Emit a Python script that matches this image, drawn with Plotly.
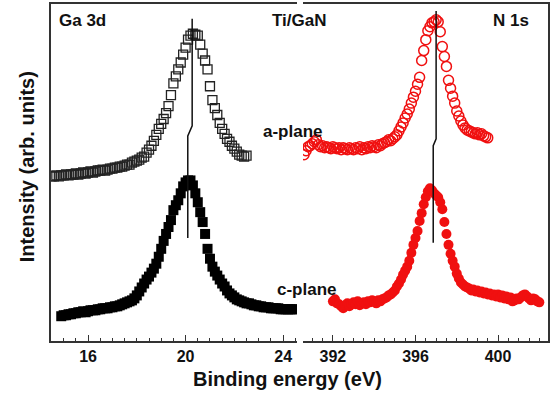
import plotly.graph_objects as go

# ---------------- data (intensity in arbitrary units) ----------------
ga_a_x = [14.5, 14.6, 14.7, 14.8, 14.9, 15.0, 15.1, 15.2, 15.3, 15.4, 15.5, 15.6, 15.7, 15.8, 15.9,
          16.0, 16.1, 16.2, 16.3, 16.4, 16.5, 16.6, 16.7, 16.8, 16.9, 17.0, 17.1, 17.2, 17.3, 17.4,
          17.5, 17.6, 17.7, 17.8, 17.9, 18.0, 18.1, 18.2, 18.3, 18.4, 18.5, 18.6, 18.7, 18.8, 18.9,
          19.0, 19.1, 19.2, 19.3, 19.4, 19.5, 19.6, 19.7, 19.8, 19.9, 20.0, 20.1, 20.2, 20.3, 20.4,
          20.5, 20.6, 20.7, 20.8, 20.9, 21.0, 21.1, 21.2, 21.3, 21.4, 21.5, 21.6, 21.7, 21.8, 21.9,
          22.0, 22.1, 22.2, 22.3, 22.4, 22.5]
ga_a_y = [166, 166, 167, 166, 167, 167, 168, 167, 168, 168, 169, 168, 169, 170, 169,
          170, 171, 170, 171, 172, 172, 173, 172, 173, 174, 174, 175, 175, 176, 176,
          177, 178, 178, 180, 181, 182, 183, 185, 186, 190, 193, 197, 202, 208, 214,
          219, 224, 230, 237, 248, 260, 267, 274, 281, 289, 296, 304, 308, 310, 309,
          308, 299, 290, 283, 274, 257, 243, 235, 228, 220, 214, 209, 204, 201, 197,
          194, 191, 188, 187, 186, 187]

ga_c_x = [14.9, 15.0, 15.1, 15.2, 15.3, 15.4, 15.5, 15.6, 15.7, 15.8, 15.9, 16.0, 16.1, 16.2, 16.3,
          16.4, 16.5, 16.6, 16.7, 16.8, 16.9, 17.0, 17.1, 17.2, 17.3, 17.4, 17.5, 17.6, 17.7, 17.8,
          17.9, 18.0, 18.1, 18.2, 18.3, 18.4, 18.5, 18.6, 18.7, 18.8, 18.9, 19.0, 19.1, 19.2, 19.3,
          19.4, 19.5, 19.6, 19.7, 19.8, 19.9, 20.0, 20.1, 20.2, 20.3, 20.4, 20.5, 20.6, 20.7, 20.8,
          20.9, 21.0, 21.1, 21.2, 21.3, 21.4, 21.5, 21.6, 21.7, 21.8, 21.9, 22.0, 22.1, 22.2, 22.3,
          22.4, 22.5, 22.6, 22.7, 22.8, 22.9, 23.0, 23.1, 23.2, 23.3, 23.4, 23.5, 23.6, 23.7, 23.8,
          23.9, 24.0, 24.1, 24.2, 24.3, 24.4, 24.5]
ga_c_y = [25, 26, 26, 27, 27, 28, 28, 29, 29, 30, 29, 30, 31, 31, 31,
          32, 32, 33, 33, 33, 34, 34, 35, 35, 36, 37, 38, 39, 40, 41,
          43, 46, 50, 54, 58, 62, 65, 69, 73, 78, 85, 93, 101, 108, 115,
          122, 132, 137, 142, 149, 156, 160, 162, 162, 157, 149, 140, 130, 120, 108,
          93, 83, 75, 70, 66, 62, 58, 55, 51, 48, 46, 44, 42, 41, 40,
          39, 38, 38, 37, 36, 36, 35, 35, 34, 34, 34, 33, 33, 33, 33,
          32, 32, 32, 32, 32, 32, 32]

n_a_x = [390.6, 390.7, 390.8, 390.9, 391.0, 391.1, 391.2, 391.3, 391.4, 391.5, 391.6, 391.7, 391.8, 391.9,
         392.0, 392.1, 392.2, 392.3, 392.4, 392.5, 392.6, 392.7, 392.8, 392.9, 393.0, 393.1, 393.2, 393.3,
         393.4, 393.5, 393.6, 393.7, 393.8, 393.9, 394.0, 394.1, 394.2, 394.3, 394.4, 394.5, 394.6, 394.7,
         394.8, 394.9, 395.0, 395.1, 395.2, 395.3, 395.4, 395.5, 395.6, 395.7, 395.8, 395.9, 396.0, 396.1,
         396.2, 396.3, 396.4, 396.5, 396.6, 396.7, 396.8, 396.9, 397.0, 397.1, 397.2, 397.3, 397.4, 397.5,
         397.6, 397.7, 397.8, 397.9, 398.0, 398.1, 398.2, 398.3, 398.4, 398.5, 398.6, 398.7, 398.8, 398.9,
         399.0, 399.1, 399.2, 399.3, 399.4, 399.5]
n_a_y = [188, 192, 196, 197, 199, 201, 203, 198, 196, 197, 195, 196, 195, 194,
         196, 195, 194, 195, 193, 195, 194, 193, 195, 194, 193, 195, 194, 196,
         193, 195, 194, 196, 195, 197, 196, 195, 198, 197, 199, 200, 201, 203,
         202, 204, 206, 208, 212, 216, 220, 225, 229, 234, 240, 246, 252, 259,
         266, 283, 293, 304, 313, 317, 321, 322, 324, 322, 312, 297, 287, 277,
         263, 255, 247, 240, 232, 227, 222, 218, 215, 213, 212, 211, 210, 209,
         210, 208, 209, 207, 206, 205]

n_c_x = [392.0, 392.1, 392.2, 392.3, 392.4, 392.5, 392.6, 392.7, 392.8, 392.9, 393.0, 393.1, 393.2, 393.3,
         393.4, 393.5, 393.6, 393.7, 393.8, 393.9, 394.0, 394.1, 394.2, 394.3, 394.4, 394.5, 394.6, 394.7,
         394.8, 394.9, 395.0, 395.1, 395.2, 395.3, 395.4, 395.5, 395.6, 395.7, 395.8, 395.9, 396.0, 396.1,
         396.2, 396.3, 396.4, 396.5, 396.6, 396.7, 396.8, 396.9, 397.0, 397.1, 397.2, 397.3, 397.4, 397.5,
         397.6, 397.7, 397.8, 397.9, 398.0, 398.1, 398.2, 398.3, 398.4, 398.5, 398.6, 398.7, 398.8, 398.9,
         399.0, 399.1, 399.2, 399.3, 399.4, 399.5, 399.6, 399.7, 399.8, 399.9, 400.0, 400.1, 400.2, 400.3,
         400.4, 400.5, 400.6, 400.7, 400.8, 400.9, 401.0, 401.1, 401.2, 401.3, 401.4, 401.5, 401.6, 401.7,
         401.8, 401.9, 402.0]
n_c_y = [40, 42, 38, 37, 35, 33, 36, 38, 35, 37, 39, 37, 40, 36,
         38, 39, 37, 40, 39, 41, 40, 38, 41, 40, 42, 43, 44, 46,
         47, 49, 51, 55, 58, 62, 67, 71, 75, 81, 89, 97, 104, 111,
         121, 129, 138, 145, 151, 154, 152, 149, 147, 145, 140, 133, 120, 108,
         97, 88, 81, 75, 68, 63, 59, 57, 55, 54, 53, 51, 52, 50,
         51, 49, 50, 48, 49, 47, 48, 46, 47, 45, 47, 44, 46, 43,
         45, 42, 44, 40, 41, 43, 42, 44, 46, 47, 45, 43, 41, 43,
         42, 40, 39]

# peak-position guide lines (binding energy, intensity)
ga_line_x = [20.27, 20.27, 20.09, 20.09]
ga_line_y = [325, 217, 207, 104]
n_line_x = [397.0, 397.0, 396.86, 396.86]
n_line_y = [333, 204, 197, 99]

ga_ticks = [16, 20, 24]
n_ticks = [392, 396, 400]

FONT = "Liberation Sans, Arial, sans-serif"
RED = "#f01010"

fig = go.Figure()
fig.add_trace(go.Scatter(x=ga_a_x, y=ga_a_y, mode="markers", xaxis="x", yaxis="y",
                         marker=dict(symbol="square-open", size=9, color="#222",
                                     line=dict(width=1.3, color="#222"))))
fig.add_trace(go.Scatter(x=ga_c_x, y=ga_c_y, mode="markers", xaxis="x", yaxis="y",
                         marker=dict(symbol="square", size=10, color="black")))
fig.add_trace(go.Scatter(x=ga_line_x, y=ga_line_y, mode="lines", xaxis="x", yaxis="y",
                         line=dict(color="#111", width=1.5)))
fig.add_trace(go.Scatter(x=n_a_x, y=n_a_y, mode="markers", xaxis="x2", yaxis="y2",
                         marker=dict(symbol="circle-open", size=10, color=RED,
                                     line=dict(width=1.5, color=RED))))
fig.add_trace(go.Scatter(x=n_c_x, y=n_c_y, mode="markers", xaxis="x2", yaxis="y2",
                         marker=dict(symbol="circle", size=10, color=RED)))
fig.add_trace(go.Scatter(x=n_line_x, y=n_line_y, mode="lines", xaxis="x2", yaxis="y2",
                         line=dict(color="#111", width=1.5)))

axis_common = dict(showgrid=False, zeroline=False, showline=True, linecolor="#333", linewidth=1.5)
tickfont = dict(family=FONT, size=16, color="#111", weight="bold")

fig.update_layout(
    width=557, height=397,
    margin=dict(l=51, r=9, t=2, b=56),
    paper_bgcolor="white", plot_bgcolor="white",
    showlegend=False,
    xaxis=dict(domain=[0, 0.495], range=[14.48, 24.57], anchor="y", mirror=True,
               ticks="inside", tickvals=ga_ticks, ticklen=6, tickwidth=1.3, tickcolor="#333",
               minor=dict(dtick=0.5, tick0=0, ticks="inside", ticklen=3, tickwidth=1.2, tickcolor="#333"),
               tickfont=tickfont, **axis_common),
    xaxis2=dict(domain=[0.507, 1], range=[390.55, 402.42], anchor="y2", mirror=True,
                ticks="inside", tickvals=n_ticks, ticklen=6, tickwidth=1.3, tickcolor="#333",
                minor=dict(dtick=0.5, tick0=0, ticks="inside", ticklen=3, tickwidth=1.2, tickcolor="#333"),
                tickfont=tickfont, **axis_common),
    yaxis=dict(range=[0, 340], anchor="x", side="left", ticks="", showticklabels=False, **axis_common),
    yaxis2=dict(range=[0, 340], anchor="x2", side="right", ticks="", showticklabels=False, **axis_common),
)

def ann(text, x, y, size=17, angle=0):
    fig.add_annotation(text=text, x=x, y=y, xref="paper", yref="paper", showarrow=False,
                       xanchor="center", yanchor="middle", textangle=angle,
                       font=dict(family=FONT, size=size, color="#111", weight="bold"))

ann("Ga 3d", 0.0624, 0.950)
ann("Ti/GaN", 0.499, 0.950)
ann("N 1s", 0.9256, 0.950)
ann("a-plane", 0.487, 0.622)
ann("c-plane", 0.515, 0.153)
ann("Binding energy (eV)", 0.476, -0.112, size=20)
ann("Intensity (arb. units)", -0.048, 0.516, size=20, angle=-90)

fig.write_html("out.html", config={"displayModeBar": False},
               post_script="document.body.style.margin='0';document.body.style.overflow='hidden';")
